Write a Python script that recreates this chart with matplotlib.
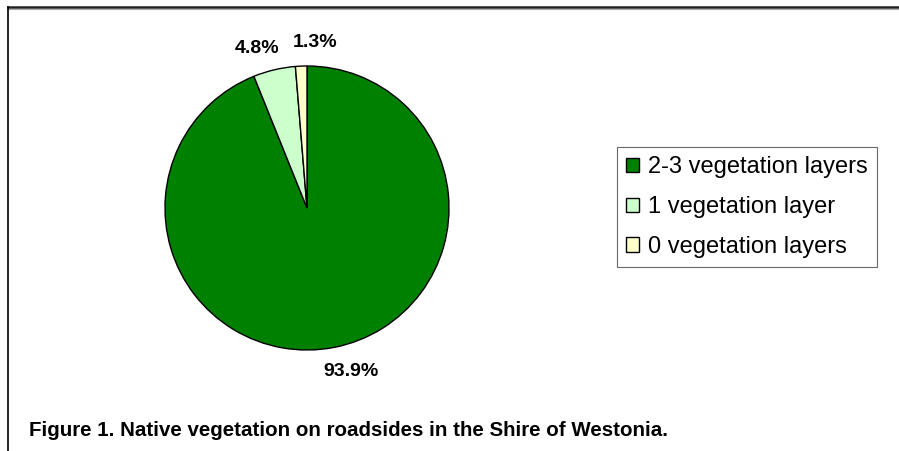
import matplotlib
matplotlib.use("Agg")
import matplotlib.pyplot as plt
from matplotlib.patches import Patch
from matplotlib.lines import Line2D
import numpy as np

categories = ["2-3 vegetation layers", "1 vegetation layer", "0 vegetation layers"]
shares = [93.9, 4.8, 1.3]
colors = ["#008000", "#CCFFCC", "#FFFFCC"]
caption = "Figure 1. Native vegetation on roadsides in the Shire of Westonia."

# Excel nudges its data labels a little off the radial position (pixels)
label_nudge = [(13, -3), (-12, 1), (15, 2)]

W, H = 899, 451
fig = plt.figure(figsize=(W / 100, H / 100), dpi=100)
plt.rcParams['font.family'] = ['Liberation Sans', 'DejaVu Sans']

def px_axes(x0, y0, x1, y1):
    # pixel box (top-left origin) -> figure fraction axes
    return fig.add_axes([x0 / W, 1 - y1 / H, (x1 - x0) / W, (y1 - y0) / H])

# outer frame (cropped at right and bottom)
fig.add_artist(Line2D([8 / W, 1], [1 - 7 / H, 1 - 7 / H], color="#222222", lw=1.8))
fig.add_artist(Line2D([8 / W, 1], [1 - 9 / H, 1 - 9 / H], color="#aaaaaa", lw=0.8))
fig.add_artist(Line2D([8 / W, 8 / W], [1 - 7 / H, 0], color="black", lw=1.2))

ax = px_axes(165, 66, 449, 350)
wedges, _ = ax.pie(shares, colors=colors, startangle=90, counterclock=False,
                   wedgeprops=dict(edgecolor="black", linewidth=1.0))
ax.set_xlim(-1, 1)
ax.set_ylim(-1, 1)
ax.set_aspect("equal")
ax.axis("off")

# data labels outside the pie
for w, v, (dx, dy) in zip(wedges, shares, label_nudge):
    mid = np.deg2rad((w.theta1 + w.theta2) / 2)
    ax.annotate(f"{v:.1f}%", xy=(1.15 * np.cos(mid), 1.15 * np.sin(mid)),
                xytext=(dx, dy), textcoords="offset pixels",
                ha="center", va="center", fontsize=14, fontweight="bold",
                annotation_clip=False)

handles = [Patch(facecolor=c, edgecolor="black", linewidth=1.0) for c in colors]
leg = fig.legend(handles, categories, loc="upper left",
                 bbox_to_anchor=(617 / W, 1 - 147 / H), fontsize=17,
                 frameon=True, fancybox=False, edgecolor="#444444",
                 handlelength=0.55, handleheight=0.55, handletextpad=0.35,
                 labelspacing=0.75, borderpad=0.4, borderaxespad=0)
leg.get_frame().set_linewidth(0.8)

fig.text(29 / W, 1 - 430 / H, caption, ha="left", va="center",
         fontsize=14.8, fontweight="bold")

fig.savefig("out.png", dpi=100)
